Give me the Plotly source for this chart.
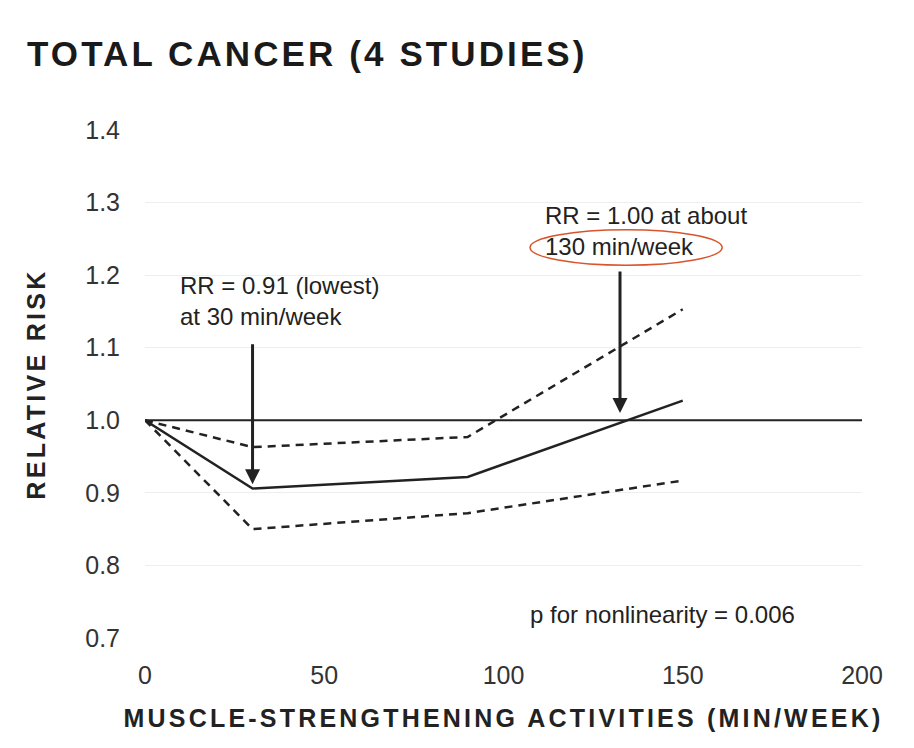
import plotly.graph_objects as go

# dose-response: muscle-strengthening activities vs relative risk of total cancer
minutes = [0, 30, 90, 150]
rr = [1.0, 0.906, 0.922, 1.027]
rr_upper = [1.0, 0.963, 0.977, 1.153]
rr_lower = [1.0, 0.850, 0.872, 0.917]

x_ticks = [0, 50, 100, 150, 200]
y_ticks = [0.7, 0.8, 0.9, 1.0, 1.1, 1.2, 1.3, 1.4]

lowest_min, lowest_rr = 30, 0.91
null_min, null_rr = 132.5, 1.0

ink = "#222222"
txt = "Liberation Sans, Arial, Helvetica, sans-serif"


def spaced(s, px):
    return '<span style="letter-spacing:%spx">%s</span>' % (px, s)


fig = go.Figure()

fig.add_hline(y=1.0, line=dict(color=ink, width=2))

fig.add_trace(go.Scatter(x=minutes, y=rr_upper, mode="lines",
                         line=dict(color=ink, width=2.5, dash="8px,6px"), name="upper"))
fig.add_trace(go.Scatter(x=minutes, y=rr_lower, mode="lines",
                         line=dict(color=ink, width=2.5, dash="8px,6px"), name="lower"))
fig.add_trace(go.Scatter(x=minutes, y=rr, mode="lines",
                         line=dict(color=ink, width=2.5), name="RR"))

# arrows
fig.add_annotation(x=lowest_min, y=lowest_rr + 0.002, ax=lowest_min, ay=1.107,
                   xref="x", yref="y", axref="x", ayref="y", text="",
                   showarrow=True, arrowhead=2, arrowsize=1, arrowwidth=3, arrowcolor=ink)
fig.add_annotation(x=null_min, y=null_rr + 0.01, ax=null_min, ay=1.207,
                   xref="x", yref="y", axref="x", ayref="y", text="",
                   showarrow=True, arrowhead=2, arrowsize=1, arrowwidth=3, arrowcolor=ink)

fig.add_annotation(x=9.2, y=1.165, xanchor="left", yanchor="middle", align="left",
                   text="RR = 0.91 (lowest)<br>at 30 min/week", showarrow=False,
                   font=dict(family=txt, size=24, color=ink))
fig.add_annotation(x=111, y=1.261, xanchor="left", yanchor="middle", align="left",
                   text="RR = 1.00 at about<br>130 min/week", showarrow=False,
                   font=dict(family=txt, size=24, color=ink))
fig.add_annotation(x=106.8, y=0.732, xanchor="left", yanchor="middle",
                   text="p for nonlinearity = 0.006", showarrow=False,
                   font=dict(family=txt, size=24, color=ink))

# red ring round "130 min/week"
fig.add_shape(type="circle", xref="x", yref="y", x0=107.4, x1=161, y0=1.2136, y1=1.2626,
              line=dict(color="#d9542b", width=1.5))

# the page body adds an 8px margin, so the figure is 8px smaller each way
fig.update_layout(
    width=906, height=740,
    margin=dict(l=137, r=52, t=122, b=110),
    paper_bgcolor="white", plot_bgcolor="white",
    showlegend=False,
    font=dict(family=txt, color=ink),
    title=dict(text="<b>" + spaced("TOTAL CANCER (4 STUDIES)", 3.1) + "</b>",
               x=19 / 906, xanchor="left", xref="container",
               y=1 - 46 / 740, yanchor="middle", yref="container",
               font=dict(family=txt, size=35, color="#1a1a1a", weight="bold")),
)

fig.update_xaxes(range=[0, 200], tickvals=x_ticks, showgrid=False, zeroline=False,
                 showline=False, ticks="", ticklabelstandoff=20, automargin=False,
                 tickfont=dict(family=txt, size=25, color="#333333"),
                 title=dict(text="<b>" + spaced("MUSCLE-STRENGTHENING ACTIVITIES (MIN/WEEK)", 3.2) + "</b>",
                            font=dict(family=txt, size=25, color=ink), standoff=21))
fig.update_yaxes(range=[0.7, 1.4], tickvals=y_ticks, tickformat=".1f",
                 showgrid=True, gridcolor="#eeeeee", gridwidth=1, zeroline=False,
                 showline=False, ticks="", ticklabelstandoff=24, automargin=False,
                 tickfont=dict(family=txt, size=25, color="#333333"),
                 title=dict(text="<b>" + spaced("RELATIVE RISK", 3.3) + "</b>",
                            font=dict(family=txt, size=25, color=ink), standoff=32))

fig.write_html("out.html")
